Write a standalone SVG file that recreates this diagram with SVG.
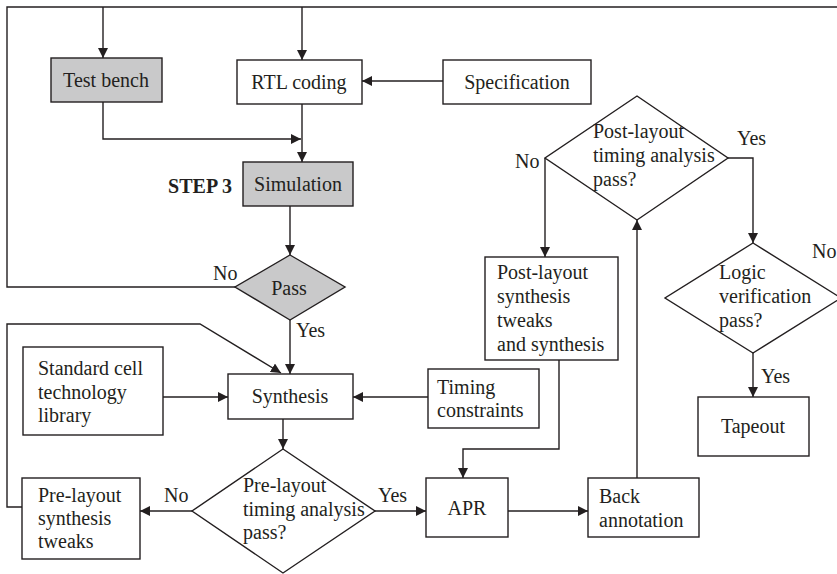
<svg xmlns="http://www.w3.org/2000/svg" width="837" height="574" viewBox="0 0 837 574">
<defs>
<marker id="ah" viewBox="0 0 10 10" refX="10" refY="5" markerWidth="10" markerHeight="10" markerUnits="userSpaceOnUse" orient="auto">
<path d="M0,0 L10,5 L0,10 Z" fill="#231f20"/>
</marker>
<style>
.box{fill:#fff;stroke:#231f20;stroke-width:1.4}
.grey{fill:#c9c9ca;stroke:#231f20;stroke-width:1.4}
.t{font-family:"Liberation Serif","Times New Roman",Times,"DejaVu Serif",serif;font-size:20px;fill:#231f20}
.c{text-anchor:middle}
.b{font-weight:bold}
.ln{fill:none;stroke:#231f20;stroke-width:1.4}
.ar{marker-end:url(#ah)}
</style>
</defs>
<rect width="837" height="574" fill="#fff"/>
<g id="connectors">
<path class="ln" d="M235,287 H7 V7 H837"/>
<path class="ln ar" d="M103,7 V58"/>
<path class="ln ar" d="M302,7 V60"/>
<path class="ln ar" d="M443,81 H362"/>
<path class="ln ar" d="M103,102 V139 H301"/>
<path class="ln ar" d="M302,104 V162"/>
<path class="ln ar" d="M290,206 V255"/>
<path class="ln ar" d="M290,320 V374"/>
<path class="ln ar" d="M22,507 H7 V324 H200 L281,373"/>
<path class="ln ar" d="M163,397 H228"/>
<path class="ln ar" d="M428,397 H353"/>
<path class="ln ar" d="M283,419 V449"/>
<path class="ln ar" d="M192,511 H140"/>
<path class="ln ar" d="M375,511 H426"/>
<path class="ln ar" d="M508,511 H588"/>
<path class="ln ar" d="M637,478 V220"/>
<path class="ln ar" d="M545,158 V257"/>
<path class="ln ar" d="M559,360 V449 H463 V478"/>
<path class="ln ar" d="M728,158 H753 V243"/>
<path class="ln ar" d="M753,353 V397"/>
<text class="t" x="213" y="280">No</text>
<text class="t" x="296" y="337">Yes</text>
<text class="t" x="164" y="502">No</text>
<text class="t" x="378" y="502">Yes</text>
<text class="t" x="515" y="168">No</text>
<text class="t" x="737" y="145">Yes</text>
<text class="t" x="812" y="258">No</text>
<text class="t" x="761" y="383">Yes</text>
</g>
<g id="test-bench">
<rect class="grey" x="51" y="58" width="111" height="44"/>
<text class="t c" x="106" y="87">Test bench</text>
</g>
<g id="rtl-coding">
<rect class="box" x="237" y="60" width="125" height="44"/>
<text class="t c" x="299" y="89">RTL coding</text>
</g>
<g id="specification">
<rect class="box" x="443" y="60" width="148" height="44"/>
<text class="t c" x="517" y="89">Specification</text>
</g>
<g id="simulation">
<text class="t b" x="232" y="193" text-anchor="end">STEP 3</text>
<rect class="grey" x="243" y="162" width="110" height="44"/>
<text class="t c" x="298" y="191">Simulation</text>
</g>
<g id="pass">
<path class="grey" d="M290,255 L345,287 L290,320 L235,287 Z"/>
<text class="t c" x="289" y="295">Pass</text>
</g>
<g id="standard-cell">
<rect class="box" x="23" y="347" width="140" height="88"/>
<text class="t" x="38" y="375">Standard cell</text>
<text class="t" x="38" y="399">technology</text>
<text class="t" x="38" y="422">library</text>
</g>
<g id="synthesis">
<rect class="box" x="228" y="374" width="125" height="45"/>
<text class="t c" x="290" y="403">Synthesis</text>
</g>
<g id="timing-constraints">
<rect class="box" x="428" y="369" width="111" height="59"/>
<text class="t" x="437" y="394">Timing</text>
<text class="t" x="437" y="417">constraints</text>
</g>
<g id="pre-layout-check">
<path class="box" d="M283,449 L375,511 L283,573 L192,511 Z"/>
<text class="t" x="243" y="492">Pre-layout</text>
<text class="t" x="243" y="516">timing analysis</text>
<text class="t" x="243" y="539">pass?</text>
</g>
<g id="pre-layout-tweaks">
<rect class="box" x="22" y="478" width="118" height="81"/>
<text class="t" x="38" y="502">Pre-layout</text>
<text class="t" x="38" y="525">synthesis</text>
<text class="t" x="38" y="548">tweaks</text>
</g>
<g id="apr">
<rect class="box" x="426" y="478" width="82" height="59"/>
<text class="t c" x="467" y="515">APR</text>
</g>
<g id="back-annotation">
<rect class="box" x="588" y="478" width="111" height="59"/>
<text class="t" x="599" y="503">Back</text>
<text class="t" x="599" y="527">annotation</text>
</g>
<g id="post-layout-check">
<path class="box" d="M637,96 L728,158 L637,220 L545,158 Z"/>
<text class="t" x="593" y="138">Post-layout</text>
<text class="t" x="593" y="162">timing analysis</text>
<text class="t" x="593" y="186">pass?</text>
</g>
<g id="post-layout-tweaks">
<rect class="box" x="485" y="257" width="133" height="103"/>
<text class="t" x="497" y="279">Post-layout</text>
<text class="t" x="497" y="303">synthesis</text>
<text class="t" x="497" y="327">tweaks</text>
<text class="t" x="497" y="351">and synthesis</text>
</g>
<g id="logic-verification">
<path class="box" d="M753,243 L841,298 L753,353 L665,298 Z"/>
<text class="t" x="719" y="279">Logic</text>
<text class="t" x="719" y="303">verification</text>
<text class="t" x="719" y="327">pass?</text>
</g>
<g id="tapeout">
<rect class="box" x="698" y="397" width="111" height="59"/>
<text class="t c" x="753" y="433">Tapeout</text>
</g>
</svg>
